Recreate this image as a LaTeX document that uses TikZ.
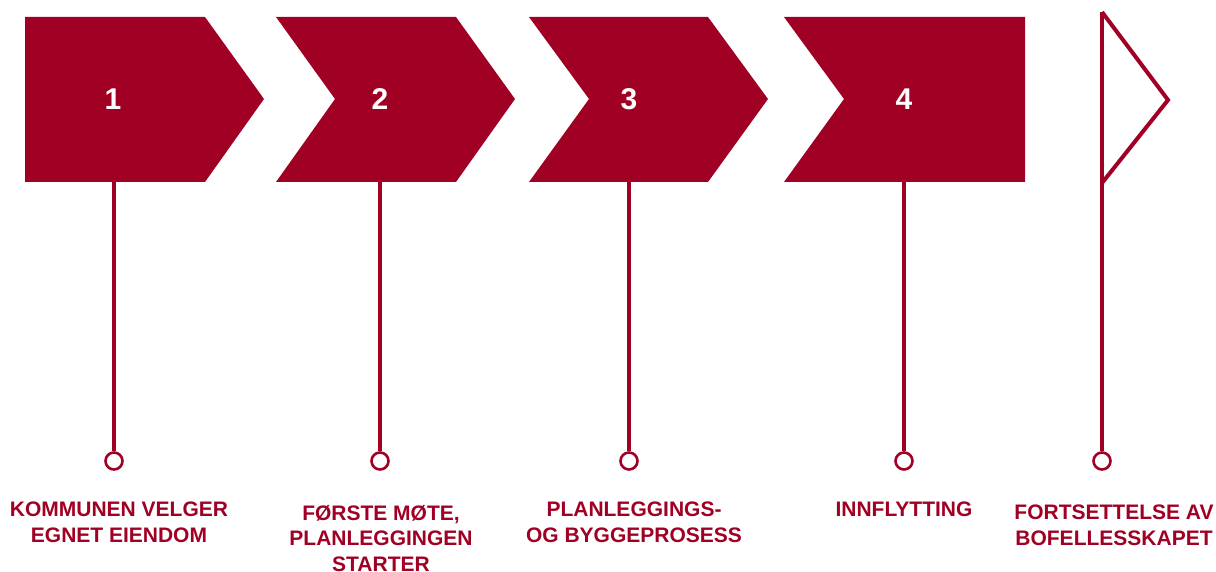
\documentclass[tikz,border=0pt]{standalone}
\usepackage{fontspec}
\setmainfont{Liberation Sans}
\definecolor{wine}{HTML}{A00024}
\begin{document}
\begin{tikzpicture}[x=1pt,y=-1pt,
  chev/.style={fill=wine,draw=none},
  num/.style={text=white,font=\fontsize{30}{33}\selectfont\bfseries,inner sep=0pt},
  stem/.style={draw=wine,line width=4.5pt},
  dot/.style={circle,draw=wine,line width=2.6pt,fill=white,minimum size=17pt,inner sep=0pt},
  lbl/.style={text=wine,font=\fontsize{21}{25.5}\selectfont\bfseries,align=center,anchor=north,inner sep=0pt}]
\useasboundingbox (0,0) rectangle (1216,572);

% chevron bands
\fill[chev] (25,17) -- (205,17) -- (264,99) -- (205,182) -- (25,182) -- cycle;
\fill[chev] (276,17) -- (456,17) -- (515,99) -- (456,182) -- (276,182) -- (335,99) -- cycle;
\fill[chev] (529,17) -- (708,17) -- (768,99) -- (708,182) -- (529,182) -- (589,99) -- cycle;
\fill[chev] (784,17) -- (1025,17) -- (1025,182) -- (784,182) -- (844,99) -- cycle;

% step numbers
\node[num] (n1) at (113,99) {1};
\node[num] (n2) at (380,99) {2};
\node[num] (n3) at (629,99) {3};
\node[num] (n4) at (904,99) {4};

% stem tops and end circles
\coordinate (s1) at (114,181);
\coordinate (s2) at (380,181);
\coordinate (s3) at (629,181);
\coordinate (s4) at (904,181);
\coordinate (s5) at (1102,12);
\node[dot] (c1) at (114,461) {};
\node[dot] (c2) at (380,461) {};
\node[dot] (c3) at (629,461) {};
\node[dot] (c4) at (904,461) {};
\node[dot] (c5) at (1102,461) {};

\draw[stem] (s1) -- (c1.north);
\draw[stem] (s2) -- (c2.north);
\draw[stem] (s3) -- (c3.north);
\draw[stem] (s4) -- (c4.north);
\draw[stem] (s5) -- (c5.north);

% flag
\coordinate (ft) at (1168,100);
\coordinate (fb) at (1102,183);
\draw[draw=wine,line width=4pt,line join=miter] (s5) -- (ft) -- (fb);

% labels
\node[lbl] (l1) at (119,502) {KOMMUNEN VELGER\\EGNET EIENDOM};
\node[lbl] (l2) at (381,505) {FØRSTE MØTE,\\PLANLEGGINGEN\\STARTER};
\node[lbl] (l3) at (634,502) {PLANLEGGINGS-\\OG BYGGEPROSESS};
\node[lbl] (l4) at (904,502) {INNFLYTTING};
\node[lbl] (l5) at (1114,505) {FORTSETTELSE AV\\BOFELLESSKAPET};
\end{tikzpicture}
\end{document}
